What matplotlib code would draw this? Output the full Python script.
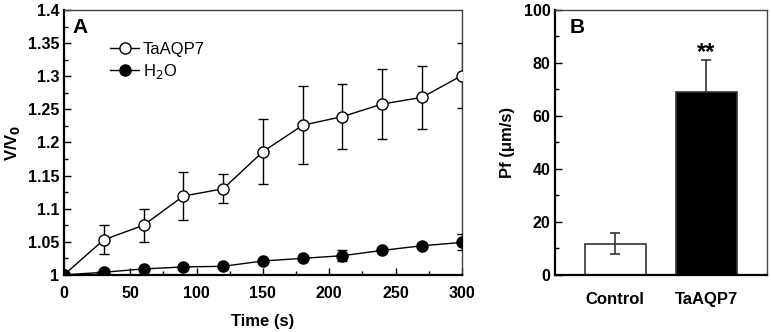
import numpy as np
import matplotlib
matplotlib.use('Agg')
import matplotlib.pyplot as plt
from matplotlib.ticker import MultipleLocator

plt.rcParams['font.family'] = 'Liberation Sans'

# Panel A: swelling time course
time_s = [0, 30, 60, 90, 120, 150, 180, 210, 240, 270, 300]
aqp7_mean = [1.0, 1.053, 1.075, 1.119, 1.130, 1.186, 1.226, 1.239, 1.258, 1.268, 1.301]
aqp7_err = [0.0, 0.022, 0.025, 0.036, 0.022, 0.049, 0.059, 0.049, 0.053, 0.048, 0.049]
h2o_mean = [1.0, 1.004, 1.009, 1.012, 1.013, 1.021, 1.025, 1.029, 1.037, 1.044, 1.049]
h2o_err = [0.0, 0.002, 0.002, 0.002, 0.003, 0.003, 0.003, 0.008, 0.003, 0.004, 0.012]

# Panel B: osmotic permeability
groups = ['Control', 'TaAQP7']
pf_mean = [11.7, 69.2]
pf_err = [4.0, 11.8]
bar_colors = ['white', 'black']

fig = plt.figure(figsize=(7.71, 3.32), dpi=100)
axA = fig.add_axes([0.083, 0.172, 0.516, 0.798])
axB = fig.add_axes([0.720, 0.172, 0.275, 0.798])

bold = {'fontweight': 'bold', 'fontsize': 12}


def style_box(ax):
    for pos in ['left', 'bottom']:
        ax.spines[pos].set_linewidth(1.6)
        ax.spines[pos].set_color('black')
    for pos in ['top', 'right']:
        ax.spines[pos].set_linewidth(1.0)
        ax.spines[pos].set_color('#444444')
    ax.tick_params(which='major', direction='in', length=5, width=1, labelsize=11.5)
    ax.tick_params(which='minor', direction='in', length=3, width=1)
    ax.tick_params(axis='x', pad=8)
    for lab in ax.get_xticklabels() + ax.get_yticklabels():
        lab.set_fontweight('bold')


# ---- A ----
axA.errorbar(time_s, aqp7_mean, yerr=aqp7_err, color='black', lw=1, capsize=3.5,
             elinewidth=1, capthick=1, marker='o', ms=8, mfc='white', mec='black',
             mew=1, label='TaAQP7', zorder=3)
axA.errorbar(time_s, h2o_mean, yerr=h2o_err, color='black', lw=1, capsize=3.5,
             elinewidth=1, capthick=1, marker='o', ms=8, mfc='black', mec='black',
             label='H$_2$O', zorder=3)
axA.set_xlim(0, 300)
axA.set_ylim(1.0, 1.4)
axA.xaxis.set_minor_locator(MultipleLocator(25))
axA.yaxis.set_minor_locator(MultipleLocator(0.025))
axA.set_yticks(np.arange(1.0, 1.41, 0.05))
axA.set_yticklabels(['1', '1.05', '1.1', '1.15', '1.2', '1.25', '1.3', '1.35', '1.4'])
axA.set_xticks(range(0, 301, 50))
axA.set_xticklabels([str(v) for v in range(0, 301, 50)])
axA.set_xlabel('Time (s)', **bold, labelpad=9)
axA.set_ylabel('V/V$_\\mathbf{0}$', **bold, labelpad=4)
style_box(axA)
axA.text(0.022, 0.97, 'A', transform=axA.transAxes, fontsize=15,
         fontweight='bold', va='top', ha='left')
handles, labels = axA.get_legend_handles_labels()
handles = [h[0] for h in handles]
leg = axA.legend(handles, labels, loc='upper left', bbox_to_anchor=(0.1, 0.905),
                 frameon=False, fontsize=12, handlelength=1.7, handletextpad=0.25,
                 labelspacing=0.3, borderaxespad=0)

# ---- B ----
xpos = np.arange(len(groups))
axB.bar(xpos, pf_mean, width=0.67, color=bar_colors, edgecolor='#333333',
        linewidth=1.2, zorder=2)
for x, m, e, c in zip(xpos, pf_mean, pf_err, bar_colors):
    # error bar hidden inside the dark bar, visible on the white one
    axB.errorbar(x, m, yerr=e, fmt='none', ecolor='#333333', elinewidth=1.2,
                 capsize=3.5, capthick=1.2, zorder=3 if c == 'white' else 1)
axB.set_xlim(-0.66, 1.67)
axB.set_ylim(0, 100)
axB.yaxis.set_major_locator(MultipleLocator(20))
axB.yaxis.set_minor_locator(MultipleLocator(10))
axB.set_xticks(xpos)
axB.set_xticklabels(groups)
axB.set_ylabel('Pf (\u03bcm/s)', **bold, labelpad=6)
style_box(axB)
axB.tick_params(axis='x', which='both', length=0, pad=12, labelsize=12)
axB.text(0.07, 0.97, 'B', transform=axB.transAxes, fontsize=15,
         fontweight='bold', va='top', ha='left')
axB.text(xpos[1], pf_mean[1] + pf_err[1] - 1.5, '**', ha='center', va='bottom',
         fontsize=17, fontweight='bold')

fig.savefig('out.png', dpi=100)
